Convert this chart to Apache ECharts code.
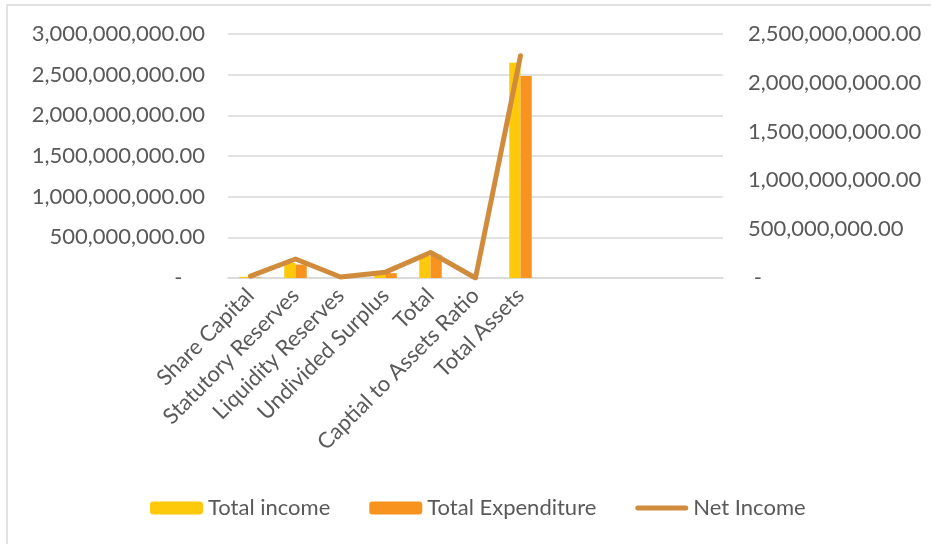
<!DOCTYPE html>
<html>
<head>
<meta charset="utf-8">
<script src="https://cdn.jsdelivr.net/npm/echarts@6/dist/echarts.min.js"></script>
<style>html,body{margin:0;padding:0;background:#fff}#c{width:931px;height:544px}</style>
</head>
<body>
<div id="c"></div>
<script>
var categories = ['Share Capital','Statutory Reserves','Liquidity Reserves','Undivided Surplus','Total','Captial to Assets Ratio','Total Assets','','','',''];
var totalIncome = [15000000, 185000000, 2000000, 50000000, 270000000, 0, 2647000000, null, null, null, null];
var totalExpenditure = [5000000, 165000000, 1000000, 60000000, 285000000, 0, 2484000000, null, null, null, null];
var netIncome = [20000000, 195000000, 10000000, 60000000, 262000000, 0, 2278000000, null, null, null, null];
var leftTicks = {min: 0, max: 3000000000, interval: 500000000};
var rightTicks = {min: 0, max: 2500000000, interval: 500000000};

function fmt(v){
  return v.toFixed(2).replace(/\B(?=(\d{3})+(?!\d))/g, ',');
}
var FONT = 'Lato';
var TXT = '#595959';
var FS = 22;
var LINE_C = '#D08C3C';
var chart = echarts.init(document.getElementById('c'));
chart.setOption({
  animation: false,
  textStyle: {fontFamily: FONT},
  graphic: [{type: 'rect', shape: {x: 7, y: 5, width: 1000, height: 1000}, style: {fill: 'none', stroke: '#D9D9D9', lineWidth: 1.5}, silent: true}],
  grid: {left: 228, right: 208, top: 34, bottom: 266},
  legend: {
    left: 145, top: 492, itemWidth: 53, itemHeight: 13, itemGap: 39, symbolKeepAspect: true,
    textStyle: {fontFamily: FONT, fontSize: FS, color: TXT},
    data: ['Total income', 'Total Expenditure', {
      name: 'Net Income',
      icon: 'path://M2.5,0 L50.5,0 A2.5,2.5 0 0 1 50.5,5 L2.5,5 A2.5,2.5 0 0 1 2.5,0 Z',
      itemStyle: {color: LINE_C}
    }]
  },
  xAxis: {
    type: 'category', data: categories,
    axisLine: {lineStyle: {color: '#D9D9D9', width: 1.5}},
    axisTick: {show: false},
    axisLabel: {interval: 0, rotate: 45, margin: 14, fontFamily: FONT, fontSize: FS, color: TXT}
  },
  yAxis: [{
    type: 'value', min: leftTicks.min, max: leftTicks.max, interval: leftTicks.interval,
    axisLine: {show: false}, axisTick: {show: false},
    splitLine: {lineStyle: {color: '#D9D9D9', width: 1.5}},
    axisLabel: {margin: 23, fontFamily: FONT, fontSize: FS, color: TXT, formatter: function(v){return v === 0 ? '-    ' : fmt(v);}}
  }, {
    type: 'value', min: rightTicks.min, max: rightTicks.max, interval: rightTicks.interval,
    axisLine: {show: false}, axisTick: {show: false}, splitLine: {show: false},
    axisLabel: {margin: 25, fontFamily: FONT, fontSize: FS, color: TXT, formatter: function(v){return v === 0 ? ' -' : fmt(v);}}
  }],
  series: [{
    name: 'Total income', type: 'bar', data: totalIncome, barGap: '0%', barCategoryGap: '50%',
    itemStyle: {color: '#FFC90B'}
  }, {
    name: 'Total Expenditure', type: 'bar', data: totalExpenditure, barGap: '0%', barCategoryGap: '50%',
    itemStyle: {color: '#F7931E'}
  }, {
    name: 'Net Income', type: 'line', yAxisIndex: 1, data: netIncome, symbol: 'none', showSymbol: false,
    lineStyle: {color: LINE_C, width: 5, cap: 'round', join: 'round'}, itemStyle: {color: LINE_C}
  }]
});
</script>
</body>
</html>
